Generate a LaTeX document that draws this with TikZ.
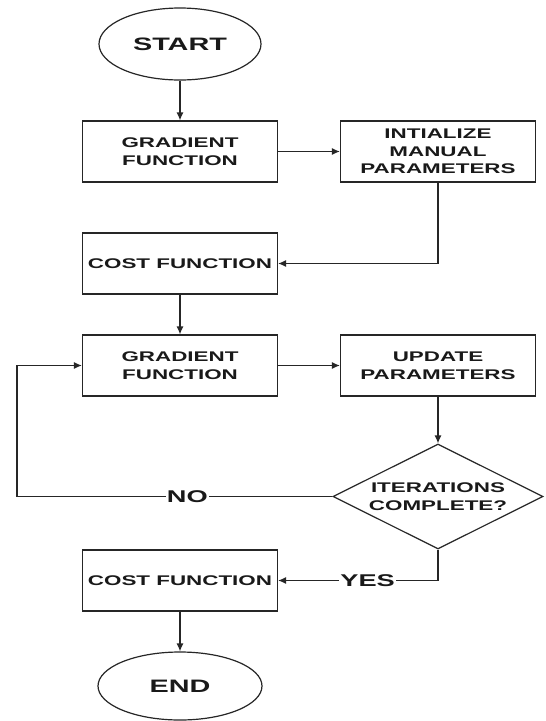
\documentclass[tikz,border=0pt]{standalone}
\usepackage{fontspec}
\setmainfont{Liberation Sans}[FakeStretch=1.6]
\usetikzlibrary{shapes.geometric,arrows.meta}

\begin{document}
\begin{tikzpicture}[x=1pt, y=-1pt, line width=1.2pt, draw=black!85, >={Latex[length=8pt,width=7pt]},
            box/.style={draw, align=center, minimum width=195pt, minimum height=61pt, text=black!90,
                font=\bfseries\fontsize{14}{17.5}\selectfont},
            term/.style={ellipse, draw, minimum width=162pt, minimum height=72pt, text=black!90,
                font=\bfseries\fontsize{18}{21}\selectfont},
            cond/.style={diamond, draw, aspect=2, inner sep=0pt, align=center, minimum width=210pt,
                minimum height=105pt, text=black!90, font=\bfseries\fontsize{14}{17.5}\selectfont},
            lbl/.style={fill=white, inner sep=1pt, text=black!90, font=\bfseries\fontsize{17}{20}\selectfont}
          ]
          \path[use as bounding box, fill=white] (0,0) rectangle (546,721);
          \node[term] (start) at (180,44) {START};
          \node[box] (grad1) at (180,151.5) {GRADIENT\\FUNCTION};
          \node[box] (init) at (438,151.5) {INTIALIZE\\MANUAL\\PARAMETERS};
          \node[box] (cost1) at (180,263.5) {COST FUNCTION};
          \node[box] (grad2) at (180,365.5) {GRADIENT\\FUNCTION};
          \node[box] (update) at (438,365.5) {UPDATE\\PARAMETERS};
          \node[cond] (iter) at (438,496.5) {ITERATIONS\\COMPLETE?};
          \node[box] (cost2) at (180,580.5) {COST FUNCTION};
          \node[term, minimum height=68pt, minimum width=164pt] (end) at (180,686) {END};
          \coordinate (loop) at (17,496.5);
          \draw[->] (start) -- (grad1);
          \draw[->] (grad1) -- (init);
          \draw[->] (init.south) |- (cost1.east);
          \draw[->] (cost1) -- (grad2);
          \draw[->] (grad2) -- (update);
          \draw[->] (update) -- (iter);
          \draw[->] (iter.west) -- node[lbl, pos=.46]{NO} (loop) |- (grad2.west);
          \draw[->] (iter.south) |- node[lbl, pos=.72]{YES} (cost2.east);
          \draw[->] (cost2) -- (end);
    \end{tikzpicture}
\end{document}
